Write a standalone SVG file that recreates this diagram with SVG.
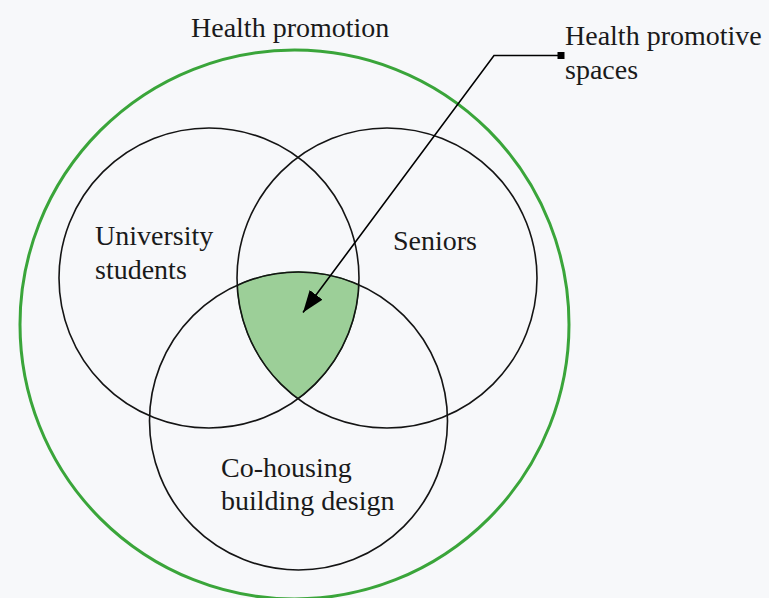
<svg xmlns="http://www.w3.org/2000/svg" width="769" height="598" viewBox="0 0 769 598">
<defs>
<style>
.t{font-family:"Liberation Serif","Times New Roman",serif;font-size:28px;fill:#1a1a1a}
.c{fill:none;stroke:#141414;stroke-width:1.6}
</style>
<marker id="ah" viewBox="0 0 10 10" refX="10" refY="5" markerWidth="8" markerHeight="8" markerUnits="userSpaceOnUse" orient="auto">
<path d="M0,0 L10,5 L0,10 z" fill="#000"/>
</marker>
<marker id="ah2" viewBox="0 0 22 16" refX="22" refY="8" markerWidth="22" markerHeight="16" markerUnits="userSpaceOnUse" orient="auto">
<path d="M0,0 L22,8 L0,16 z" fill="#000"/>
</marker>
</defs>
<rect width="769" height="598" fill="#f7f8fa"/>
<g id="health-promotion">
<circle cx="294.5" cy="324.5" r="274.5" fill="none" stroke="#3aa53a" stroke-width="3"/>
<text class="t" x="191" y="37">Health promotion</text>
</g>
<g id="intersection">
<path d="M237.2,285.2 A149,149 0 0 1 358.9,284.7 A150,150 0 0 1 298,398.7 A150,150 0 0 1 237.2,285.2 Z" fill="#9ccf98" stroke="#2f6f2f" stroke-width="1.2"/>
</g>
<g id="university-students">
<circle class="c" cx="209" cy="278" r="150"/>
<text class="t" x="95" y="245">University</text>
<text class="t" x="95" y="279">students</text>
</g>
<g id="seniors">
<circle class="c" cx="387" cy="278" r="150"/>
<text class="t" x="393" y="250">Seniors</text>
</g>
<g id="co-housing">
<circle class="c" cx="298.5" cy="421" r="149"/>
<text class="t" x="221" y="477">Co-housing</text>
<text class="t" x="221" y="510">building design</text>
</g>
<g id="connectors">
<rect x="557.5" y="52" width="7" height="7" fill="#000"/>
<polyline points="561,55.5 494,55.5 303,312.5" fill="none" stroke="#000" stroke-width="1.6" marker-end="url(#ah2)"/>
</g>
<g id="health-promotive-spaces">
<text class="t" x="565" y="45">Health promotive</text>
<text class="t" x="565" y="79">spaces</text>
</g>
</svg>
